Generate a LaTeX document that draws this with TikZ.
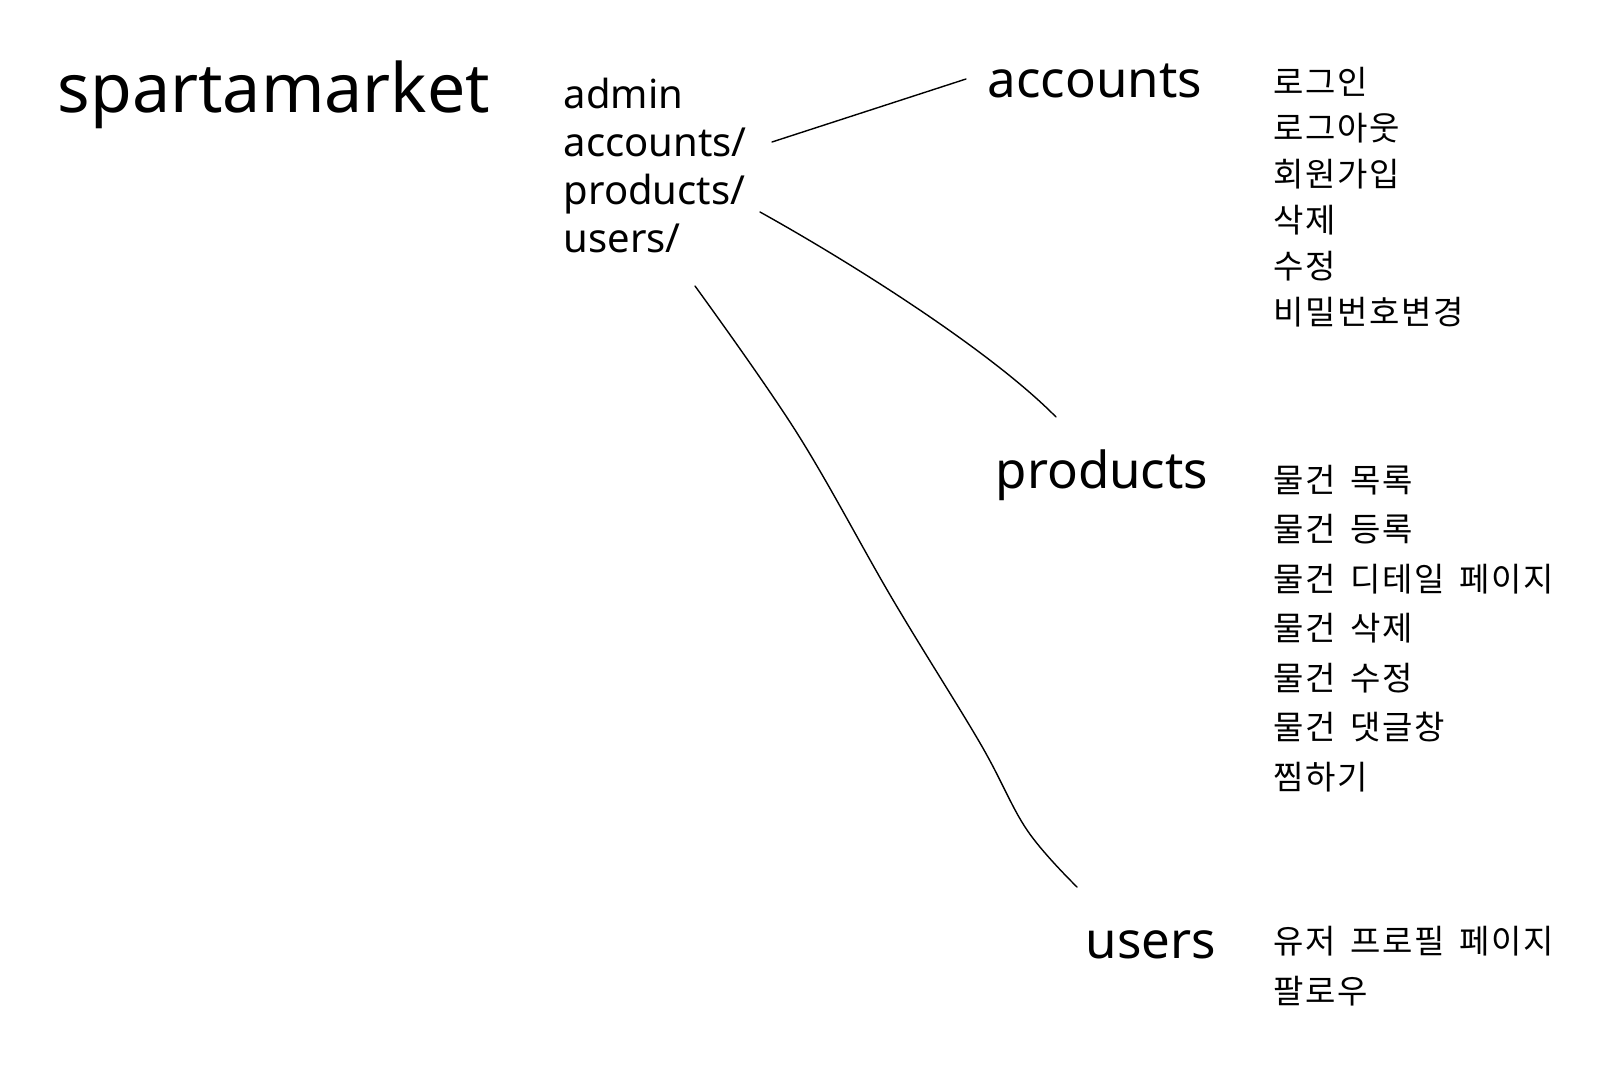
\documentclass[tikz,border=0pt]{standalone}
\usepackage{fontspec}
\setmainfont{Noto Sans}
\newfontfamily\krfont[LetterSpace=5, WordSpace=1.6]{Noto Sans CJK KR}
\begin{document}
\begin{tikzpicture}[x=1pt, y=-1pt, line width=1.4pt,
  title/.style={anchor=base west, inner sep=0pt, font=\fontsize{68}{80}\selectfont},
  urlitem/.style={anchor=base west, inner sep=0pt, font=\fontsize{40}{48}\selectfont},
  appname/.style={anchor=base west, inner sep=0pt, font=\fontsize{51}{60}\selectfont},
  kritem/.style={anchor=base west, inner sep=0pt, font=\krfont\fontsize{33}{40}\selectfont},
  link/.style={draw=black, line cap=round}]
  \useasboundingbox (0,0) rectangle (1620,1073);

  % project
  \node[title] (project) at (57,112) {spartamarket};

  % root urls
  \foreach \t [count=\i] in {admin, accounts/, products/, users/}
    \node[urlitem] (url-\i) at (563,108+48*\i-48) {\t};

  % apps
  \node[appname] (accounts) at (987,98) {accounts};
  \node[appname] (products) at (995,488) {products};
  \node[appname] (users) at (1085,958) {users};

  % features of each app
  \foreach \t [count=\i] in {로그인, 로그아웃, 회원가입, 삭제, 수정, 비밀번호변경}
    \node[kritem] (acc-\i) at (1273,94+46*\i-46) {\t};
  \foreach \t [count=\i] in {물건 목록, 물건 등록, 물건 디테일 페이지, 물건 삭제, 물건 수정, 물건 댓글창, 찜하기}
    \node[kritem] (prd-\i) at (1273,492+49.5*\i-49.5) {\t};
  \foreach \t [count=\i] in {유저 프로필 페이지, 팔로우}
    \node[kritem] (usr-\i) at (1273,953+50*\i-50) {\t};

  % connectors
  \coordinate (acc-from) at (772,142);
  \coordinate (acc-to) at (966,79);
  \coordinate (prd-from) at (760,212);
  \coordinate (prd-to) at (1056,417);
  \coordinate (usr-from) at (695,286);
  \coordinate (usr-to) at (1077,887);

  \draw[link] (acc-from) -- (acc-to);
  \draw[link] (prd-from) .. controls (850,262) and (990,350) .. (prd-to);
  \draw[link] plot[smooth, tension=0.6] coordinates {(usr-from) (797,433) (893,600) (980,743) (1027,830) (usr-to)};
\end{tikzpicture}
\end{document}
